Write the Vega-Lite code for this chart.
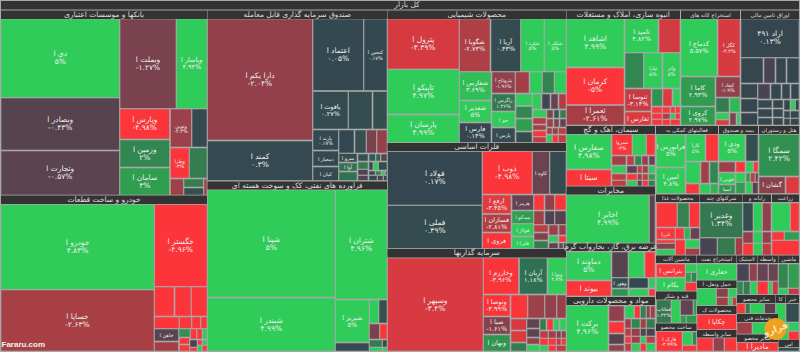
{"$schema":"https://vega.github.io/schema/vega-lite/v6.json","width":800,"height":352,"padding":0,"autosize":{"type":"none"},"background":"#a9a9a9","view":{"stroke":null},
"datasets":{
"headers":[
{"x0":1,"x1":799,"y0":1,"y1":9.5,"label":"کل بازار","tx":407},
{"x0":1,"x1":207,"y0":10.5,"y1":19,"label":"بانکها و موسسات اعتباری"},
{"x0":207.5,"x1":387,"y0":10.5,"y1":19,"label":"صندوق سرمایه گذاری قابل معامله"},
{"x0":387.5,"x1":566,"y0":10.5,"y1":19,"label":"محصولات شیمیایی"},
{"x0":566.5,"x1":680,"y0":10.5,"y1":19,"label":"انبوه سازی، املاک و مستغلات"},
{"x0":681,"x1":740,"y0":10.5,"y1":19,"label":"استخراج کانه های"},
{"x0":741,"x1":799,"y0":10.5,"y1":19,"label":"اوراق تامین مالی"},
{"x0":1,"x1":207,"y0":195.5,"y1":204,"label":"خودرو و ساخت قطعات"},
{"x0":207.5,"x1":387,"y0":181.5,"y1":189.5,"label":"فراورده های نفتی، کک و سوخت هسته ای"},
{"x0":387.5,"x1":566,"y0":143,"y1":151,"label":"فلزات اساسی"},
{"x0":387.5,"x1":566,"y0":249,"y1":257.5,"label":"سرمایه گذاریها"},
{"x0":566.5,"x1":655,"y0":126,"y1":134,"label":"سیمان، آهک و گچ"},
{"x0":656,"x1":718,"y0":126,"y1":134,"label":"فعالیتهای کمکی به"},
{"x0":719,"x1":758,"y0":126,"y1":134,"label":"بیمه و صندوق"},
{"x0":759,"x1":799,"y0":126,"y1":134,"label":"هتل و رستوران"},
{"x0":566.5,"x1":655,"y0":186.5,"y1":194.5,"label":"مخابرات"},
{"x0":656,"x1":699.5,"y0":194.5,"y1":202,"label":"محصولات غذا"},
{"x0":700,"x1":742.5,"y0":194.5,"y1":202,"label":"شرکتهای چند"},
{"x0":743,"x1":771,"y0":194.5,"y1":202,"label":"رایانه و"},
{"x0":772,"x1":799,"y0":194.5,"y1":202,"label":"زراعت"},
{"x0":566.5,"x1":655,"y0":243.5,"y1":251,"label":"عرضه برق، گاز، بخاروآب گرم"},
{"x0":566.5,"x1":655,"y0":297,"y1":305,"label":"مواد و محصولات دارویی"},
{"x0":656,"x1":696.5,"y0":255.5,"y1":263,"label":"ماشین آلات"},
{"x0":697,"x1":736.5,"y0":255.5,"y1":263,"label":"استخراج نفت"},
{"x0":737,"x1":757,"y0":255.5,"y1":263,"label":"لاستیک"},
{"x0":757.5,"x1":778,"y0":255.5,"y1":263,"label":"واسطه"},
{"x0":778.5,"x1":799,"y0":255.5,"y1":263,"label":"ماشین"},
{"x0":656,"x1":696.5,"y0":291.5,"y1":299.5,"label":"قند و شکر"},
{"x0":656,"x1":696.5,"y0":323.5,"y1":331,"label":"ساخت محصو"},
{"x0":697,"x1":736.5,"y0":280.5,"y1":288,"label":"حمل ونقل، ا"},
{"x0":697,"x1":736.5,"y0":306,"y1":314,"label":"محصولات ک"},
{"x0":697,"x1":736.5,"y0":330,"y1":337.5,"label":"سایر واسطه"},
{"x0":737,"x1":775.5,"y0":295,"y1":303,"label":"سایر محصو"},
{"x0":776,"x1":785.5,"y0":295,"y1":303,"label":"کا"},
{"x0":786,"x1":799,"y0":295,"y1":303,"label":"خبر"},
{"x0":737,"x1":778,"y0":314,"y1":322,"label":"خدمات فنی"},
{"x0":737,"x1":778,"y0":334.5,"y1":342,"label":"سایر محصو"},
{"x0":778.5,"x1":799,"y0":340,"y1":347,"label":"اس"}
],
"tiles":[
{"x0":1,"x1":119.5,"y0":19,"y1":97.5,"chg":5,"label":"دی ا\n۵%"},
{"x0":1,"x1":119.5,"y0":98,"y1":150,"chg":-0.43,"label":"وبصادر ا\n-۰.۴۳%"},
{"x0":1,"x1":119.5,"y0":151,"y1":195,"chg":-0.57,"label":"وتجارت ا\n-۰.۵۷%"},
{"x0":120,"x1":176,"y0":19,"y1":108.5,"chg":-1.27,"label":"وبملت ا\n-۱.۲۷%"},
{"x0":176.5,"x1":207,"y0":19,"y1":108.5,"chg":4.94,"label":"وپاسار ا\n۴.۹۴%"},
{"x0":120,"x1":169.5,"y0":109,"y1":139,"chg":-4.98,"label":"وپارس ا\n-۴.۹۸%"},
{"x0":120,"x1":169.5,"y0":140,"y1":167,"chg":2,"label":"وزمین ا\n۲%"},
{"x0":120,"x1":169.5,"y0":168,"y1":195,"chg":3,"label":"سامان ا\n۳%"},
{"x0":170.5,"x1":191.5,"y0":109,"y1":147,"chg":-2.3,"label":"وتوین\n-۲.۳%"},
{"x0":192,"x1":207,"y0":109,"y1":147,"chg":0.3},
{"x0":170.5,"x1":189,"y0":148,"y1":178,"chg":-4.2,"label":"وطرا\n-۳%"},
{"x0":189.5,"x1":207,"y0":148,"y1":178,"chg":1.6},
{"x0":170.5,"x1":183.5,"y0":179,"y1":195,"chg":-2.3},
{"x0":184,"x1":203.5,"y0":179,"y1":187,"chg":1.6},
{"x0":184,"x1":203.5,"y0":188,"y1":195,"chg":0.6},
{"x0":204,"x1":207,"y0":179,"y1":195,"chg":-2.6},
{"x0":1,"x1":154,"y0":204.5,"y1":289.5,"chg":4.83,"label":"خودرو ا\n۴.۸۳%"},
{"x0":1,"x1":154,"y0":290,"y1":351,"chg":-2.63,"label":"خساپا ا\n-۲.۶۳%"},
{"x0":154.5,"x1":207,"y0":204.5,"y1":286.5,"chg":-4.96,"label":"خگستر ا\n-۴.۹۶%"},
{"x0":154.5,"x1":174,"y0":287,"y1":316,"chg":-4.5},
{"x0":175,"x1":191,"y0":287,"y1":316,"chg":-4.5},
{"x0":191.5,"x1":207,"y0":287,"y1":316,"chg":-4.5},
{"x0":154.5,"x1":179,"y0":317,"y1":328.5,"chg":-4.5},
{"x0":179.5,"x1":191.5,"y0":317,"y1":328.5,"chg":-4.5},
{"x0":192,"x1":200.5,"y0":317,"y1":328.5,"chg":-4.5},
{"x0":201,"x1":207,"y0":317,"y1":328.5,"chg":-4.5},
{"x0":154.5,"x1":178.5,"y0":329,"y1":341,"chg":-0.5,"label":"خاهن ا"},
{"x0":154.5,"x1":178.5,"y0":342,"y1":351,"chg":-2.6},
{"x0":179,"x1":190,"y0":329,"y1":337,"chg":2.5},
{"x0":190.5,"x1":196.5,"y0":329,"y1":339,"chg":-4.5},
{"x0":197,"x1":202,"y0":329,"y1":339,"chg":-4.5},
{"x0":202.5,"x1":207,"y0":329,"y1":339,"chg":5},
{"x0":179.5,"x1":189.5,"y0":338,"y1":344,"chg":-4.5},
{"x0":179.5,"x1":189.5,"y0":345,"y1":351,"chg":-4.5},
{"x0":190,"x1":197,"y0":340,"y1":347,"chg":-0.1},
{"x0":190,"x1":197,"y0":347.5,"y1":351,"chg":-4.5},
{"x0":197.5,"x1":202,"y0":340,"y1":345,"chg":-4.5},
{"x0":202.5,"x1":207,"y0":340,"y1":345,"chg":4.5},
{"x0":197.5,"x1":202,"y0":345.5,"y1":351,"chg":5},
{"x0":202.5,"x1":207,"y0":345.5,"y1":351,"chg":-4.5},
{"x0":207.5,"x1":312.5,"y0":19,"y1":140,"chg":-2.04,"label":"دارا یکم ا\n-۲.۰۴%"},
{"x0":207.5,"x1":312.5,"y0":141,"y1":180.5,"chg":0.3,"label":"کمند ا\n۰.۳%"},
{"x0":313,"x1":363.5,"y0":19,"y1":90.5,"chg":0.25,"label":"اعتماد ا\n۰.۰۵%"},
{"x0":364,"x1":387,"y0":19,"y1":90.5,"chg":0.25,"label":"کنجین ا\n۰.۱۷%"},
{"x0":313,"x1":348,"y0":91.5,"y1":129,"chg":0.4,"label":"یاقوت ا\n۰.۲۷%"},
{"x0":348.5,"x1":372,"y0":91.5,"y1":129,"chg":0.5},
{"x0":373,"x1":387,"y0":91.5,"y1":129,"chg":0.5},
{"x0":313,"x1":338.5,"y0":130,"y1":150,"chg":0.25,"label":"پارند ا\n۰.۱۷%"},
{"x0":313,"x1":338.5,"y0":151,"y1":166,"chg":0.3,"label":"دمعیار ا"},
{"x0":313,"x1":338.5,"y0":167,"y1":180.5,"chg":0.3,"label":"کیان ا"},
{"x0":339,"x1":354,"y0":130,"y1":153,"chg":0.2},
{"x0":355,"x1":366,"y0":130,"y1":153,"chg":0.6},
{"x0":366.5,"x1":376.5,"y0":130,"y1":153,"chg":-1.3},
{"x0":377,"x1":387,"y0":130,"y1":153,"chg":-2.2},
{"x0":339,"x1":357,"y0":153.5,"y1":162,"chg":0.5,"label":"سرو ا"},
{"x0":339,"x1":357,"y0":163,"y1":171,"chg":1.2,"label":"آوا ا"},
{"x0":339,"x1":357,"y0":172,"y1":180.5,"chg":1.2},
{"x0":358,"x1":368,"y0":154,"y1":161,"chg":0.6},
{"x0":369,"x1":375.5,"y0":154,"y1":161,"chg":0.8},
{"x0":376,"x1":380.5,"y0":154,"y1":161,"chg":1},
{"x0":381,"x1":387,"y0":154,"y1":161,"chg":-0.4},
{"x0":358,"x1":368,"y0":162,"y1":169,"chg":1.5},
{"x0":369,"x1":373,"y0":162,"y1":170,"chg":0.5},
{"x0":373.5,"x1":378,"y0":162,"y1":170,"chg":5},
{"x0":378.5,"x1":387,"y0":162,"y1":170,"chg":0.4},
{"x0":358,"x1":368,"y0":169.5,"y1":175,"chg":-0.3},
{"x0":358,"x1":368,"y0":175.5,"y1":180.5,"chg":-0.3},
{"x0":369,"x1":375,"y0":171,"y1":175,"chg":0.4},
{"x0":375.5,"x1":381,"y0":171,"y1":175,"chg":2},
{"x0":381.5,"x1":385,"y0":171,"y1":175,"chg":5},
{"x0":385.5,"x1":387,"y0":171,"y1":175,"chg":0.4},
{"x0":369,"x1":377,"y0":175.5,"y1":180.5,"chg":0.3},
{"x0":377.5,"x1":383,"y0":175.5,"y1":180.5,"chg":-0.2},
{"x0":383.5,"x1":387,"y0":175.5,"y1":180.5,"chg":0.5},
{"x0":207.5,"x1":335,"y0":190,"y1":297,"chg":5,"label":"شپنا ا\n۵%"},
{"x0":207.5,"x1":335,"y0":298,"y1":351,"chg":4.99,"label":"شبندر ا\n۴.۹۹%"},
{"x0":335.5,"x1":387,"y0":190,"y1":299,"chg":4.96,"label":"شتران ا\n۴.۹۶%"},
{"x0":335.5,"x1":369,"y0":300,"y1":342,"chg":5,"label":"شبریز ا\n۵%"},
{"x0":369.5,"x1":378.5,"y0":300,"y1":323,"chg":5},
{"x0":379,"x1":387,"y0":300,"y1":323,"chg":0.6},
{"x0":369.5,"x1":379.5,"y0":324,"y1":339,"chg":-1.3},
{"x0":380,"x1":387,"y0":324,"y1":339,"chg":-4.5},
{"x0":335.5,"x1":369,"y0":343,"y1":351,"chg":0.3},
{"x0":369.5,"x1":382,"y0":340,"y1":347,"chg":1.5},
{"x0":382.5,"x1":387,"y0":340,"y1":347,"chg":0.5},
{"x0":369.5,"x1":382,"y0":347.5,"y1":351,"chg":5},
{"x0":382.5,"x1":387,"y0":347.5,"y1":351,"chg":4},
{"x0":387.5,"x1":459,"y0":19,"y1":69,"chg":-3.39,"label":"پترول ا\n-۳.۳۹%"},
{"x0":387.5,"x1":459,"y0":69.5,"y1":114,"chg":4.97,"label":"تاپیکو ا\n۴.۹۷%"},
{"x0":387.5,"x1":459,"y0":115,"y1":142.5,"chg":4.99,"label":"پارسان ا\n۴.۹۹%"},
{"x0":459.5,"x1":490,"y0":19,"y1":71.5,"chg":-2.73,"label":"شگویا ا\n-۲.۷۳%"},
{"x0":491,"x1":520.5,"y0":19,"y1":71.5,"chg":0.43,"label":"آریا ا\n۰.۴۳%"},
{"x0":521,"x1":544,"y0":19,"y1":71.5,"chg":5,"label":"شلرد ا\n۵%"},
{"x0":544.5,"x1":566,"y0":19,"y1":71.5,"chg":5,"label":"شکلر ا\n۵%"},
{"x0":459.5,"x1":491,"y0":72,"y1":100,"chg":3.69,"label":"شفارس ا\n۳.۶۹%"},
{"x0":459.5,"x1":491,"y0":101,"y1":122,"chg":5,"label":"شغدیر ا\n۵%"},
{"x0":459.5,"x1":491,"y0":123,"y1":142.5,"chg":0.14,"label":"فارس ا\n۰.۱۴%"},
{"x0":492,"x1":515,"y0":72,"y1":93,"chg":-1.96,"label":"پتروتاح ا\n-۱.۹۶%"},
{"x0":492,"x1":515,"y0":94,"y1":111,"chg":1.36,"label":"زاگرس ا\n۱.۳۶%"},
{"x0":492,"x1":515,"y0":112,"y1":127,"chg":5,"label":"جم ا"},
{"x0":492,"x1":515,"y0":128,"y1":142.5,"chg":0.4,"label":"پارس ا"},
{"x0":515.5,"x1":529,"y0":72,"y1":93,"chg":-2.5},
{"x0":530,"x1":542,"y0":72,"y1":93,"chg":5},
{"x0":542.5,"x1":554,"y0":72,"y1":93,"chg":1.8},
{"x0":554.5,"x1":566,"y0":72,"y1":93,"chg":5},
{"x0":516,"x1":532,"y0":94,"y1":105.5,"chg":4.5},
{"x0":532.5,"x1":541,"y0":94,"y1":109,"chg":4.5},
{"x0":542,"x1":550,"y0":94,"y1":109,"chg":-0.1},
{"x0":551,"x1":558,"y0":94,"y1":109,"chg":-0.8},
{"x0":559,"x1":566,"y0":94,"y1":109,"chg":-2.8},
{"x0":516,"x1":532,"y0":106.5,"y1":118,"chg":2},
{"x0":516,"x1":532,"y0":119,"y1":131,"chg":3},
{"x0":516,"x1":532,"y0":132,"y1":142.5,"chg":0.5},
{"x0":533,"x1":546.5,"y0":110,"y1":117,"chg":4.5},
{"x0":533,"x1":546,"y0":118,"y1":124,"chg":-2.8},
{"x0":533,"x1":546,"y0":125,"y1":130,"chg":-2.5},
{"x0":533,"x1":546,"y0":131,"y1":136.5,"chg":-4.5},
{"x0":533,"x1":546,"y0":137,"y1":142.5,"chg":-3},
{"x0":547,"x1":553,"y0":110,"y1":118,"chg":-1.5},
{"x0":554,"x1":559,"y0":110,"y1":118,"chg":0.8},
{"x0":560,"x1":566,"y0":110,"y1":118,"chg":1.5},
{"x0":547,"x1":553,"y0":119,"y1":127,"chg":-2.5},
{"x0":554,"x1":559,"y0":119,"y1":127,"chg":-1.5},
{"x0":560,"x1":566,"y0":119,"y1":127,"chg":-0.7},
{"x0":547,"x1":552,"y0":128,"y1":134,"chg":-2.5},
{"x0":552.5,"x1":558,"y0":128,"y1":134,"chg":-2},
{"x0":558.5,"x1":566,"y0":128,"y1":134,"chg":-3},
{"x0":547,"x1":552,"y0":135,"y1":142.5,"chg":5},
{"x0":552.5,"x1":558,"y0":135,"y1":142.5,"chg":-4},
{"x0":558.5,"x1":566,"y0":135,"y1":142.5,"chg":-3},
{"x0":387.5,"x1":482,"y0":151.5,"y1":205,"chg":0.17,"label":"فولاد ا\n۰.۱۷%"},
{"x0":387.5,"x1":482,"y0":205.5,"y1":248.5,"chg":0.39,"label":"فملی ا\n۰.۳۹%"},
{"x0":482.5,"x1":532,"y0":151.5,"y1":194,"chg":-4.98,"label":"ذوب ا\n-۴.۹۸%"},
{"x0":532.5,"x1":549.5,"y0":151.5,"y1":194,"chg":-0.9,"label":"کاوه ا"},
{"x0":550,"x1":566,"y0":151.5,"y1":194,"chg":0.4},
{"x0":482.5,"x1":511,"y0":195,"y1":213.5,"chg":-3.6,"label":"ارفع ا\n-۳.۴۵%"},
{"x0":482.5,"x1":511,"y0":214.5,"y1":232,"chg":-2.81,"label":"فسازان ا\n-۲.۸۱%"},
{"x0":482.5,"x1":511,"y0":233,"y1":248.5,"chg":-4.5,"label":"فروی ا"},
{"x0":512,"x1":533.5,"y0":195,"y1":210,"chg":-0.8,"label":"هرمز ا"},
{"x0":512,"x1":533.5,"y0":211,"y1":223.5,"chg":3,"label":"میدکو ا"},
{"x0":512,"x1":533.5,"y0":224,"y1":236,"chg":5,"label":"فولاژ ا"},
{"x0":512,"x1":533.5,"y0":237,"y1":248.5,"chg":5,"label":"فایرا ا"},
{"x0":534,"x1":544,"y0":195,"y1":210,"chg":-4.5},
{"x0":545,"x1":554.5,"y0":195,"y1":210,"chg":-2},
{"x0":555,"x1":566,"y0":195,"y1":210,"chg":-4},
{"x0":534,"x1":544,"y0":211,"y1":224.5,"chg":-2.4},
{"x0":545,"x1":554.5,"y0":211,"y1":224.5,"chg":-0.3},
{"x0":555,"x1":566,"y0":211,"y1":224.5,"chg":-0.4},
{"x0":534,"x1":548,"y0":225,"y1":232,"chg":-3},
{"x0":549,"x1":558,"y0":225,"y1":235,"chg":-2.4},
{"x0":559,"x1":566,"y0":225,"y1":235,"chg":-2},
{"x0":534,"x1":548,"y0":233,"y1":240,"chg":-1.5},
{"x0":534,"x1":548,"y0":241,"y1":248.5,"chg":1.5},
{"x0":549,"x1":558,"y0":236,"y1":242,"chg":5},
{"x0":559,"x1":566,"y0":236,"y1":242,"chg":-4},
{"x0":549,"x1":558,"y0":243,"y1":248.5,"chg":-0.6},
{"x0":559,"x1":563,"y0":243,"y1":248.5,"chg":-1},
{"x0":563.5,"x1":566,"y0":243,"y1":248.5,"chg":0.4},
{"x0":387.5,"x1":483,"y0":258,"y1":351,"chg":-3.4,"label":"وسپهر ا\n-۳.۴%"},
{"x0":483.5,"x1":518.5,"y0":258,"y1":294,"chg":-3.96,"label":"وخارزم ا\n-۳.۹۶%"},
{"x0":519.5,"x1":547,"y0":258,"y1":294,"chg":1.18,"label":"آریان ا\n۱.۱۸%"},
{"x0":548,"x1":566,"y0":258,"y1":294,"chg":4.7,"label":"وبوا ا\n۴.۷%"},
{"x0":483.5,"x1":510,"y0":295,"y1":316,"chg":-3.99,"label":"وتوصا ا\n-۳.۹۹%"},
{"x0":511,"x1":527.5,"y0":295,"y1":318,"chg":-4.5},
{"x0":528,"x1":544.5,"y0":295,"y1":318,"chg":-2.3},
{"x0":545,"x1":556.5,"y0":295,"y1":318,"chg":-2},
{"x0":557,"x1":566,"y0":295,"y1":318,"chg":-2.2},
{"x0":483.5,"x1":510,"y0":317,"y1":334,"chg":-1.61,"label":"صبا ا\n-۱.۶۱%"},
{"x0":483.5,"x1":510,"y0":335,"y1":351,"chg":2.6,"label":"وبهان ا"},
{"x0":511,"x1":526.5,"y0":319,"y1":330,"chg":-3.4},
{"x0":511,"x1":526.5,"y0":331,"y1":342,"chg":-3.5},
{"x0":511,"x1":526.5,"y0":343,"y1":351,"chg":1.5},
{"x0":527,"x1":539.5,"y0":319,"y1":328,"chg":-0.7},
{"x0":527,"x1":539.5,"y0":329,"y1":337,"chg":-0.6},
{"x0":527,"x1":539.5,"y0":338,"y1":344,"chg":-2},
{"x0":527,"x1":539.5,"y0":345,"y1":351,"chg":5},
{"x0":540,"x1":546,"y0":319,"y1":330,"chg":1.5},
{"x0":547,"x1":553,"y0":319,"y1":330,"chg":-4},
{"x0":553.5,"x1":559,"y0":319,"y1":330,"chg":5},
{"x0":560,"x1":566,"y0":319,"y1":330,"chg":5},
{"x0":540,"x1":548,"y0":331,"y1":338,"chg":-3},
{"x0":548.5,"x1":556,"y0":331,"y1":338,"chg":-2.5},
{"x0":556.5,"x1":561,"y0":331,"y1":338,"chg":-1.5},
{"x0":561.5,"x1":566,"y0":331,"y1":338,"chg":-2},
{"x0":540,"x1":548,"y0":338.5,"y1":345,"chg":-4.5},
{"x0":548.5,"x1":556,"y0":338.5,"y1":345,"chg":-4},
{"x0":556.5,"x1":561,"y0":338.5,"y1":345,"chg":-3},
{"x0":561.5,"x1":566,"y0":338.5,"y1":345,"chg":-4.5},
{"x0":540,"x1":548,"y0":345.5,"y1":351,"chg":5},
{"x0":548.5,"x1":556,"y0":345.5,"y1":351,"chg":-4},
{"x0":556.5,"x1":566,"y0":345.5,"y1":351,"chg":-3},
{"x0":566.5,"x1":624,"y0":19,"y1":67,"chg":4.99,"label":"اشاهد ا\n۴.۹۹%"},
{"x0":566.5,"x1":624,"y0":68,"y1":104.5,"chg":-5,"label":"کرمان ا\n-۵%"},
{"x0":566.5,"x1":624,"y0":105.5,"y1":125,"chg":-2.61,"label":"ثعمرا ا\n-۲.۶۱%"},
{"x0":625,"x1":658,"y0":19,"y1":52.5,"chg":4.82,"label":"ثامید ا\n۴.۸۲%"},
{"x0":659,"x1":680,"y0":19,"y1":52.5,"chg":-3.3},
{"x0":625,"x1":643.5,"y0":53,"y1":88,"chg":2},
{"x0":644,"x1":662,"y0":53,"y1":88,"chg":5,"label":"ثپارا\n۵%"},
{"x0":663,"x1":680,"y0":53,"y1":88,"chg":5,"label":"واثر\n۵%"},
{"x0":625,"x1":651,"y0":89,"y1":111,"chg":-3.14,"label":"ثنوسا ا\n-۳.۱۴%"},
{"x0":625,"x1":651,"y0":112,"y1":125,"chg":-3.5,"label":"ثفارس ا"},
{"x0":652,"x1":662.5,"y0":89,"y1":106,"chg":2.5},
{"x0":663,"x1":672,"y0":89,"y1":106,"chg":-3.5},
{"x0":673,"x1":680,"y0":89,"y1":106,"chg":5},
{"x0":652,"x1":662,"y0":107,"y1":113,"chg":-4.5},
{"x0":662.5,"x1":670,"y0":107,"y1":113,"chg":-4.5},
{"x0":670.5,"x1":675,"y0":107,"y1":113,"chg":-4.5},
{"x0":675.5,"x1":680,"y0":107,"y1":113,"chg":-4},
{"x0":652,"x1":662,"y0":113.5,"y1":119,"chg":-4.5},
{"x0":662.5,"x1":670,"y0":113.5,"y1":119,"chg":-2.8},
{"x0":670.5,"x1":675,"y0":113.5,"y1":119,"chg":5},
{"x0":675.5,"x1":680,"y0":113.5,"y1":119,"chg":-4.5},
{"x0":652,"x1":662,"y0":119.5,"y1":125,"chg":-4.5},
{"x0":662.5,"x1":670,"y0":119.5,"y1":125,"chg":-4.5},
{"x0":670.5,"x1":680,"y0":119.5,"y1":125,"chg":-4.5},
{"x0":681,"x1":717,"y0":19,"y1":76,"chg":5.57,"label":"کدماج ا\n۵.۵۷%"},
{"x0":718,"x1":740,"y0":19,"y1":76,"chg":-3.4,"label":"کگل ا\n-۳.۴%"},
{"x0":681,"x1":715,"y0":77,"y1":106,"chg":2.93,"label":"کاما ا\n۲.۹۳%"},
{"x0":681,"x1":715,"y0":107,"y1":125,"chg":2.97,"label":"کروی ا\n۲.۹۷%"},
{"x0":716,"x1":740,"y0":77,"y1":97,"chg":-1.9,"label":"کچاد ا\n-۱.۹%"},
{"x0":716,"x1":729,"y0":98,"y1":112,"chg":1.6},
{"x0":730,"x1":740,"y0":98,"y1":112,"chg":3.6},
{"x0":716,"x1":729,"y0":113,"y1":119.5,"chg":5},
{"x0":716,"x1":729,"y0":120,"y1":125,"chg":-3.5},
{"x0":730,"x1":736,"y0":113,"y1":125,"chg":-1.5},
{"x0":737,"x1":740,"y0":113,"y1":125,"chg":5},
{"x0":741,"x1":799,"y0":19,"y1":57.5,"chg":0.13,"label":"اراد ۴۹۱\n۰.۱۳%"},
{"x0":741,"x1":763,"y0":58,"y1":83,"chg":0.15},
{"x0":764,"x1":775,"y0":58,"y1":83,"chg":-0.2},
{"x0":776,"x1":786,"y0":58,"y1":83,"chg":0.15},
{"x0":787,"x1":799,"y0":58,"y1":83,"chg":0.15},
{"x0":741,"x1":757.5,"y0":84,"y1":98,"chg":0.15},
{"x0":741,"x1":757.5,"y0":99,"y1":112,"chg":0.15},
{"x0":741,"x1":757.5,"y0":113,"y1":125,"chg":0.15},
{"x0":758,"x1":770,"y0":84,"y1":99,"chg":-0.2},
{"x0":771,"x1":781,"y0":84,"y1":99,"chg":0.15},
{"x0":782,"x1":790,"y0":84,"y1":99,"chg":0.15},
{"x0":791,"x1":799,"y0":84,"y1":99,"chg":0.15},
{"x0":758,"x1":772,"y0":100,"y1":108,"chg":0.3},
{"x0":773,"x1":783,"y0":100,"y1":108,"chg":0.15},
{"x0":758,"x1":772,"y0":109,"y1":117,"chg":0.15},
{"x0":773,"x1":783,"y0":109,"y1":117,"chg":0.15},
{"x0":758,"x1":772,"y0":118,"y1":125,"chg":0.15},
{"x0":773,"x1":783,"y0":118,"y1":125,"chg":0.15},
{"x0":784,"x1":790,"y0":100,"y1":110,"chg":0.15},
{"x0":790.5,"x1":795,"y0":100,"y1":110,"chg":5},
{"x0":795.5,"x1":799,"y0":100,"y1":110,"chg":0.15},
{"x0":784,"x1":790,"y0":111,"y1":118,"chg":0.15},
{"x0":790.5,"x1":799,"y0":111,"y1":118,"chg":0.15},
{"x0":784,"x1":790,"y0":118.5,"y1":125,"chg":0.15},
{"x0":790.5,"x1":799,"y0":118.5,"y1":125,"chg":0.15},
{"x0":566.5,"x1":611,"y0":134.5,"y1":169,"chg":4.98,"label":"سفارس ا\n۴.۹۸%"},
{"x0":566.5,"x1":611,"y0":170,"y1":186,"chg":-4.8,"label":"سیتا ا"},
{"x0":612,"x1":632,"y0":134.5,"y1":155,"chg":-4.5,"label":"سیروا\n-۴%"},
{"x0":632.5,"x1":646,"y0":134.5,"y1":155,"chg":5},
{"x0":646.5,"x1":655,"y0":134.5,"y1":155,"chg":-4.5},
{"x0":612,"x1":626,"y0":156,"y1":165,"chg":-2.5},
{"x0":627,"x1":634,"y0":156,"y1":165,"chg":-3},
{"x0":635,"x1":641.5,"y0":156,"y1":165,"chg":2},
{"x0":642,"x1":648,"y0":156,"y1":165,"chg":-2},
{"x0":649,"x1":655,"y0":156,"y1":165,"chg":-1},
{"x0":612,"x1":626,"y0":166,"y1":173,"chg":5},
{"x0":612,"x1":626,"y0":174,"y1":180,"chg":-3},
{"x0":612,"x1":626,"y0":180.5,"y1":186,"chg":-3},
{"x0":627,"x1":637,"y0":166,"y1":173,"chg":-0.5},
{"x0":637.5,"x1":642,"y0":166,"y1":173,"chg":-3},
{"x0":642.5,"x1":648,"y0":166,"y1":173,"chg":-2.5},
{"x0":648.5,"x1":655,"y0":166,"y1":173,"chg":5},
{"x0":627,"x1":637,"y0":174,"y1":180,"chg":-4},
{"x0":637.5,"x1":642,"y0":174,"y1":180,"chg":-2.5},
{"x0":642.5,"x1":648,"y0":174,"y1":180,"chg":-3},
{"x0":648.5,"x1":655,"y0":174,"y1":180,"chg":3},
{"x0":627,"x1":637,"y0":180.5,"y1":186,"chg":5},
{"x0":637.5,"x1":642,"y0":180.5,"y1":186,"chg":-0.4},
{"x0":642.5,"x1":648,"y0":180.5,"y1":186,"chg":-4},
{"x0":648.5,"x1":655,"y0":180.5,"y1":186,"chg":1.5},
{"x0":566.5,"x1":649,"y0":195,"y1":243,"chg":4.99,"label":"اخابر ا\n۴.۹۹%"},
{"x0":649.5,"x1":655,"y0":195,"y1":243,"chg":-0.6},
{"x0":656.5,"x1":685,"y0":134.5,"y1":167,"chg":5,"label":"فرابورس ا\n۵%"},
{"x0":656.5,"x1":685,"y0":168,"y1":193.5,"chg":4.8,"label":"امین ا\n۴.۸%"},
{"x0":686,"x1":705,"y0":134.5,"y1":161,"chg":5,"label":"کارا\n۵%"},
{"x0":706,"x1":718,"y0":134.5,"y1":161,"chg":-4.5},
{"x0":686,"x1":700,"y0":162,"y1":183,"chg":5},
{"x0":701,"x1":709,"y0":162,"y1":183,"chg":-2.5},
{"x0":710,"x1":718,"y0":162,"y1":183,"chg":2},
{"x0":686,"x1":699,"y0":184,"y1":193.5,"chg":-4.5},
{"x0":700,"x1":710,"y0":184,"y1":193.5,"chg":5},
{"x0":710.5,"x1":718,"y0":184,"y1":193.5,"chg":3.5},
{"x0":719,"x1":745,"y0":134.5,"y1":161,"chg":5,"label":"ودی ا\n۵%"},
{"x0":746,"x1":758,"y0":134.5,"y1":161,"chg":0.5},
{"x0":719,"x1":735,"y0":162,"y1":172,"chg":-2.3},
{"x0":736,"x1":745,"y0":162,"y1":172,"chg":-4.5},
{"x0":746,"x1":753,"y0":162,"y1":172,"chg":5},
{"x0":753.5,"x1":758,"y0":162,"y1":172,"chg":-4},
{"x0":719,"x1":735,"y0":173,"y1":184,"chg":4.5,"label":"خوبی ا"},
{"x0":719,"x1":735,"y0":185,"y1":193.5,"chg":2.6,"label":"آسیا"},
{"x0":736,"x1":745,"y0":173,"y1":182,"chg":5},
{"x0":736,"x1":745,"y0":182.5,"y1":193.5,"chg":3},
{"x0":746,"x1":750,"y0":173,"y1":182,"chg":3},
{"x0":750.5,"x1":755,"y0":173,"y1":182,"chg":-3},
{"x0":755.5,"x1":758,"y0":173,"y1":182,"chg":-0.2},
{"x0":746,"x1":752,"y0":182.5,"y1":193.5,"chg":4},
{"x0":752.5,"x1":758,"y0":182.5,"y1":193.5,"chg":-0.4},
{"x0":759,"x1":799,"y0":134.5,"y1":176,"chg":2.42,"label":"سمگا ا\n۲.۴۲%"},
{"x0":759,"x1":785,"y0":177,"y1":193.5,"chg":-1.7,"label":"گشان ا"},
{"x0":786,"x1":799,"y0":177,"y1":193.5,"chg":-3.5},
{"x0":656.5,"x1":677,"y0":203,"y1":227,"chg":-4.5},
{"x0":677.5,"x1":689,"y0":203,"y1":227,"chg":1.8},
{"x0":689.5,"x1":699.5,"y0":203,"y1":227,"chg":-4.5},
{"x0":656.5,"x1":675,"y0":228,"y1":239,"chg":-4.5,"label":"غزرا"},
{"x0":675.5,"x1":684,"y0":228,"y1":239,"chg":-4.5},
{"x0":684.5,"x1":690,"y0":228,"y1":239,"chg":3.5},
{"x0":690.5,"x1":699.5,"y0":228,"y1":239,"chg":-0.8},
{"x0":656.5,"x1":675,"y0":240,"y1":243,"chg":-4.5},
{"x0":656.5,"x1":675,"y0":243.5,"y1":249,"chg":-1.5},
{"x0":656.5,"x1":675,"y0":249.5,"y1":255,"chg":4.5},
{"x0":675.5,"x1":685,"y0":240,"y1":255,"chg":-4.5},
{"x0":685.5,"x1":699.5,"y0":240,"y1":248,"chg":4.5},
{"x0":685.5,"x1":699.5,"y0":248.5,"y1":255,"chg":-2.5},
{"x0":700,"x1":742.5,"y0":203,"y1":237.5,"chg":1.34,"label":"وغدیر ا\n۱.۳۴%"},
{"x0":700,"x1":717,"y0":238,"y1":255,"chg":-0.2},
{"x0":717.5,"x1":735,"y0":238,"y1":255,"chg":1.5},
{"x0":735.5,"x1":742.5,"y0":238,"y1":255,"chg":-2.5},
{"x0":743,"x1":753,"y0":203,"y1":231,"chg":0.5},
{"x0":753.5,"x1":762,"y0":203,"y1":231,"chg":5},
{"x0":762.5,"x1":771,"y0":203,"y1":231,"chg":-2},
{"x0":743,"x1":753,"y0":232,"y1":243,"chg":-2},
{"x0":753.5,"x1":762,"y0":232,"y1":243,"chg":4.5},
{"x0":762.5,"x1":771,"y0":232,"y1":243,"chg":-2},
{"x0":743,"x1":753,"y0":243.5,"y1":255,"chg":-4.5},
{"x0":753.5,"x1":762,"y0":243.5,"y1":255,"chg":5},
{"x0":762.5,"x1":771,"y0":243.5,"y1":255,"chg":-3},
{"x0":772,"x1":790,"y0":203,"y1":231,"chg":5},
{"x0":790.5,"x1":799,"y0":203,"y1":231,"chg":-4.5},
{"x0":772,"x1":784,"y0":232,"y1":240,"chg":-4.5},
{"x0":784.5,"x1":799,"y0":232,"y1":240,"chg":3},
{"x0":772,"x1":799,"y0":240.5,"y1":255,"chg":-4.5},
{"x0":566.5,"x1":611,"y0":252,"y1":280,"chg":5,"label":"دماوند ا\n۵%"},
{"x0":566.5,"x1":611,"y0":281,"y1":296,"chg":-4.7,"label":"بیوند ا"},
{"x0":612,"x1":628,"y0":252,"y1":277.5,"chg":-0.4},
{"x0":628.5,"x1":644,"y0":252,"y1":277.5,"chg":5},
{"x0":645,"x1":655,"y0":252,"y1":277.5,"chg":-4.5},
{"x0":612,"x1":628,"y0":278,"y1":288,"chg":0.5,"label":"وهور ا"},
{"x0":629,"x1":648,"y0":278,"y1":288,"chg":0.2},
{"x0":649,"x1":655,"y0":278,"y1":288,"chg":5},
{"x0":612,"x1":628,"y0":289,"y1":296,"chg":2.5},
{"x0":629,"x1":648,"y0":289,"y1":296,"chg":4.5},
{"x0":649,"x1":655,"y0":289,"y1":296,"chg":-4.5},
{"x0":566.5,"x1":608,"y0":305.5,"y1":351,"chg":4.96,"label":"برکت ا\n۴.۹۶%"},
{"x0":609,"x1":624,"y0":306,"y1":321,"chg":-2},
{"x0":609,"x1":624,"y0":322,"y1":333,"chg":-4.5},
{"x0":609,"x1":624,"y0":334,"y1":344,"chg":-0.4},
{"x0":609,"x1":624,"y0":345,"y1":351,"chg":-2},
{"x0":625,"x1":634,"y0":306,"y1":318,"chg":5},
{"x0":634.5,"x1":640,"y0":306,"y1":318,"chg":-4},
{"x0":640.5,"x1":646,"y0":306,"y1":318,"chg":1.8},
{"x0":646.5,"x1":650,"y0":306,"y1":318,"chg":-2},
{"x0":650.5,"x1":655,"y0":306,"y1":318,"chg":-2.5},
{"x0":625,"x1":631,"y0":319,"y1":328,"chg":-2.5},
{"x0":631.5,"x1":640,"y0":319,"y1":328,"chg":2},
{"x0":640.5,"x1":646,"y0":319,"y1":328,"chg":-2.5},
{"x0":646.5,"x1":655,"y0":319,"y1":328,"chg":1.5},
{"x0":625,"x1":631,"y0":328.5,"y1":336,"chg":-3},
{"x0":631.5,"x1":640,"y0":328.5,"y1":336,"chg":-2},
{"x0":640.5,"x1":646,"y0":328.5,"y1":336,"chg":-0.5},
{"x0":646.5,"x1":655,"y0":328.5,"y1":336,"chg":-0.3},
{"x0":625,"x1":631,"y0":336.5,"y1":343,"chg":-4},
{"x0":631.5,"x1":640,"y0":336.5,"y1":343,"chg":-2.5},
{"x0":640.5,"x1":646,"y0":336.5,"y1":343,"chg":5},
{"x0":646.5,"x1":655,"y0":336.5,"y1":343,"chg":-3},
{"x0":625,"x1":631,"y0":343.5,"y1":351,"chg":-3},
{"x0":631.5,"x1":640,"y0":343.5,"y1":351,"chg":5},
{"x0":640.5,"x1":646,"y0":343.5,"y1":351,"chg":-4.5},
{"x0":646.5,"x1":655,"y0":343.5,"y1":351,"chg":4.5},
{"x0":656.5,"x1":685,"y0":264,"y1":277,"chg":-4.5,"label":"بترانس ا"},
{"x0":656.5,"x1":685,"y0":278,"y1":291,"chg":5,"label":"بکام ا"},
{"x0":685.5,"x1":696.5,"y0":264,"y1":272,"chg":5},
{"x0":685.5,"x1":691,"y0":272.5,"y1":282,"chg":3},
{"x0":691.5,"x1":696.5,"y0":272.5,"y1":282,"chg":2},
{"x0":685.5,"x1":696.5,"y0":282.5,"y1":291,"chg":-4.5},
{"x0":656.5,"x1":671,"y0":300,"y1":323,"chg":1.34,"label":"فقاتاب\n۱.۳۴%"},
{"x0":671.5,"x1":680,"y0":300,"y1":323,"chg":5},
{"x0":680.5,"x1":693,"y0":300,"y1":315,"chg":-0.7},
{"x0":693.5,"x1":696.5,"y0":300,"y1":315,"chg":3},
{"x0":680.5,"x1":686,"y0":315.5,"y1":323,"chg":3},
{"x0":686.5,"x1":696.5,"y0":315.5,"y1":323,"chg":2.8},
{"x0":656.5,"x1":682,"y0":331.5,"y1":351,"chg":-4.99,"label":"فارک ا\n-۴.۹۹%"},
{"x0":682.5,"x1":692,"y0":332,"y1":345,"chg":4},
{"x0":692.5,"x1":696.5,"y0":332,"y1":345,"chg":2},
{"x0":682.5,"x1":696.5,"y0":345.5,"y1":351,"chg":-4},
{"x0":697,"x1":736.5,"y0":264,"y1":280,"chg":5,"label":"حفاری ا"},
{"x0":697,"x1":716,"y0":288.5,"y1":305.5,"chg":5},
{"x0":716.5,"x1":728,"y0":288.5,"y1":297,"chg":-1.7},
{"x0":728.5,"x1":736.5,"y0":288.5,"y1":297,"chg":5},
{"x0":716.5,"x1":728,"y0":297.5,"y1":305.5,"chg":-2.4},
{"x0":728.5,"x1":732,"y0":297.5,"y1":305.5,"chg":5},
{"x0":732.5,"x1":736.5,"y0":297.5,"y1":305.5,"chg":-3},
{"x0":697,"x1":736.5,"y0":314.5,"y1":329.5,"chg":-4.5,"label":"چکاپا ا"},
{"x0":697,"x1":713,"y0":338,"y1":351,"chg":-4.5},
{"x0":713.5,"x1":724,"y0":338,"y1":351,"chg":-2},
{"x0":724.5,"x1":736.5,"y0":338,"y1":351,"chg":-4.5},
{"x0":737,"x1":749,"y0":264,"y1":281,"chg":-0.2},
{"x0":749.5,"x1":757,"y0":264,"y1":281,"chg":-2},
{"x0":737,"x1":743,"y0":281.5,"y1":294.5,"chg":2},
{"x0":743.5,"x1":750,"y0":281.5,"y1":294.5,"chg":1.5},
{"x0":750.5,"x1":757,"y0":281.5,"y1":294.5,"chg":4.5},
{"x0":757.5,"x1":768,"y0":264,"y1":281,"chg":-0.8},
{"x0":768.5,"x1":778,"y0":264,"y1":281,"chg":-0.9},
{"x0":757.5,"x1":768,"y0":281.5,"y1":294.5,"chg":-4.5},
{"x0":768.5,"x1":772,"y0":281.5,"y1":294.5,"chg":4},
{"x0":772.5,"x1":778,"y0":281.5,"y1":294.5,"chg":-3},
{"x0":778.5,"x1":788,"y0":264,"y1":288,"chg":2},
{"x0":788.5,"x1":799,"y0":264,"y1":288,"chg":3},
{"x0":778.5,"x1":788,"y0":288.5,"y1":294.5,"chg":5},
{"x0":788.5,"x1":799,"y0":288.5,"y1":294.5,"chg":-3},
{"x0":737,"x1":745,"y0":303.5,"y1":313.5,"chg":-4.5},
{"x0":745.5,"x1":750,"y0":303.5,"y1":313.5,"chg":1.5},
{"x0":750.5,"x1":764,"y0":303.5,"y1":313.5,"chg":5},
{"x0":764.5,"x1":775.5,"y0":303.5,"y1":313.5,"chg":-0.5},
{"x0":776,"x1":785.5,"y0":303.5,"y1":322,"chg":5},
{"x0":786,"x1":799,"y0":303.5,"y1":322,"chg":0.5},
{"x0":737,"x1":752,"y0":322.5,"y1":334,"chg":-2.5},
{"x0":752.5,"x1":778,"y0":322.5,"y1":334,"chg":5},
{"x0":778.5,"x1":788,"y0":322.5,"y1":340,"chg":5},
{"x0":788.5,"x1":799,"y0":322.5,"y1":331,"chg":5},
{"x0":788.5,"x1":799,"y0":331.5,"y1":340,"chg":-4.5},
{"x0":737,"x1":778,"y0":342.5,"y1":351,"chg":-4.5,"label":"مادیرا ا"},
{"x0":778.5,"x1":799,"y0":347.5,"y1":351,"chg":0.5}
]},
"layer":[
{"data":{"name":"tiles"},"mark":{"type":"rect","stroke":"#a9a9a9","strokeWidth":0.6},"encoding":{
"x":{"field":"x0","type":"quantitative","scale":{"domain":[0,800],"nice":false,"zero":false},"axis":null},
"x2":{"field":"x1"},
"y":{"field":"y0","type":"quantitative","scale":{"domain":[352,0],"nice":false,"zero":false},"axis":null},
"y2":{"field":"y1"},
"color":{"field":"chg","type":"quantitative","legend":null,"scale":{"type":"linear","clamp":true,"domain":[-4,-2.6,-1.3,-0.4,0.1,0.6,1.3,3,4],"range":["#FB3539","#A53F45","#7A424E","#55434E","#35454F","#35504F","#35764E","#2F9E4F","#30CC5A"]}}}},
{"data":{"name":"headers"},"mark":{"type":"rect","fill":"#333333"},"encoding":{
"x":{"field":"x0","type":"quantitative","scale":{"domain":[0,800],"nice":false,"zero":false},"axis":null},
"x2":{"field":"x1"},
"y":{"field":"y0","type":"quantitative","scale":{"domain":[352,0],"nice":false,"zero":false},"axis":null},
"y2":{"field":"y1"}}},
{"data":{"name":"headers"},"transform":[{"filter":"datum.x1-datum.x0>=80"},{"calculate":"isValid(datum.tx)?datum.tx:(datum.x0+datum.x1)/2","as":"xm"},{"calculate":"(datum.y0+datum.y1)/2","as":"ym"}],"mark":{"type":"text","font":"DejaVu Sans","fontSize":7.5,"color":"#dddddd","baseline":"middle"},"encoding":{
"x":{"field":"xm","type":"quantitative","scale":{"domain":[0,800],"nice":false,"zero":false},"axis":null},
"y":{"field":"ym","type":"quantitative","scale":{"domain":[352,0],"nice":false,"zero":false},"axis":null},
"text":{"field":"label"}}},
{"data":{"name":"headers"},"transform":[{"filter":"datum.x1-datum.x0<80"},{"calculate":"(datum.x0+datum.x1)/2","as":"xm"},{"calculate":"(datum.y0+datum.y1)/2","as":"ym"}],"mark":{"type":"text","font":"DejaVu Sans","fontSize":5.5,"color":"#dddddd","baseline":"middle"},"encoding":{
"x":{"field":"xm","type":"quantitative","scale":{"domain":[0,800],"nice":false,"zero":false},"axis":null},
"y":{"field":"ym","type":"quantitative","scale":{"domain":[352,0],"nice":false,"zero":false},"axis":null},
"text":{"field":"label"}}},
{"data":{"name":"tiles"},"transform":[{"filter":"isValid(datum.label) && datum.x1-datum.x0>=40"},{"calculate":"(datum.x0+datum.x1)/2","as":"xm"},{"calculate":"(datum.y0+datum.y1)/2-(indexof(datum.label,'\\n')>=0?4:0)","as":"ym"}],"mark":{"type":"text","font":"DejaVu Sans","fontSize":7.5,"lineHeight":8,"lineBreak":"\n","color":"#eeeeee","baseline":"middle"},"encoding":{
"x":{"field":"xm","type":"quantitative","scale":{"domain":[0,800],"nice":false,"zero":false},"axis":null},
"y":{"field":"ym","type":"quantitative","scale":{"domain":[352,0],"nice":false,"zero":false},"axis":null},
"text":{"field":"label"}}},
{"data":{"name":"tiles"},"transform":[{"filter":"isValid(datum.label) && datum.x1-datum.x0<40 && datum.x1-datum.x0>=26"},{"calculate":"(datum.x0+datum.x1)/2","as":"xm"},{"calculate":"(datum.y0+datum.y1)/2-(indexof(datum.label,'\\n')>=0?3.5:0)","as":"ym"}],"mark":{"type":"text","font":"DejaVu Sans","fontSize":6.5,"lineHeight":7,"lineBreak":"\n","color":"#eeeeee","baseline":"middle"},"encoding":{
"x":{"field":"xm","type":"quantitative","scale":{"domain":[0,800],"nice":false,"zero":false},"axis":null},
"y":{"field":"ym","type":"quantitative","scale":{"domain":[352,0],"nice":false,"zero":false},"axis":null},
"text":{"field":"label"}}},
{"data":{"name":"tiles"},"transform":[{"filter":"isValid(datum.label) && datum.x1-datum.x0<26"},{"calculate":"(datum.x0+datum.x1)/2","as":"xm"},{"calculate":"(datum.y0+datum.y1)/2-(indexof(datum.label,'\\n')>=0?2.5:0)","as":"ym"}],"mark":{"type":"text","font":"DejaVu Sans","fontSize":5,"lineHeight":5.5,"lineBreak":"\n","color":"#eeeeee","baseline":"middle"},"encoding":{
"x":{"field":"xm","type":"quantitative","scale":{"domain":[0,800],"nice":false,"zero":false},"axis":null},
"y":{"field":"ym","type":"quantitative","scale":{"domain":[352,0],"nice":false,"zero":false},"axis":null},
"text":{"field":"label"}}},
{"data":{"values":[{"px":1.5,"py":345,"label":"Fararu.com"}]},"mark":{"type":"text","font":"Liberation Sans","fontWeight":"bold","fontSize":8,"align":"left","color":"#f2f2f2"},"encoding":{
"x":{"field":"px","type":"quantitative","scale":{"domain":[0,800],"nice":false,"zero":false},"axis":null},
"y":{"field":"py","type":"quantitative","scale":{"domain":[352,0],"nice":false,"zero":false},"axis":null},
"text":{"field":"label"}}},
{"data":{"values":[{"px":775.5,"py":329}]},"mark":{"type":"point","filled":true,"opacity":1,"size":490,"color":"#F0A020"},"encoding":{
"x":{"field":"px","type":"quantitative","scale":{"domain":[0,800],"nice":false,"zero":false},"axis":null},
"y":{"field":"py","type":"quantitative","scale":{"domain":[352,0],"nice":false,"zero":false},"axis":null}}},
{"data":{"values":[{"px":775.5,"py":329,"label":"فرارو"}]},"mark":{"type":"text","font":"DejaVu Sans","fontWeight":"bold","fontSize":9,"angle":340,"color":"#FCE9B8"},"encoding":{
"x":{"field":"px","type":"quantitative","scale":{"domain":[0,800],"nice":false,"zero":false},"axis":null},
"y":{"field":"py","type":"quantitative","scale":{"domain":[352,0],"nice":false,"zero":false},"axis":null},
"text":{"field":"label"}}}
]}
